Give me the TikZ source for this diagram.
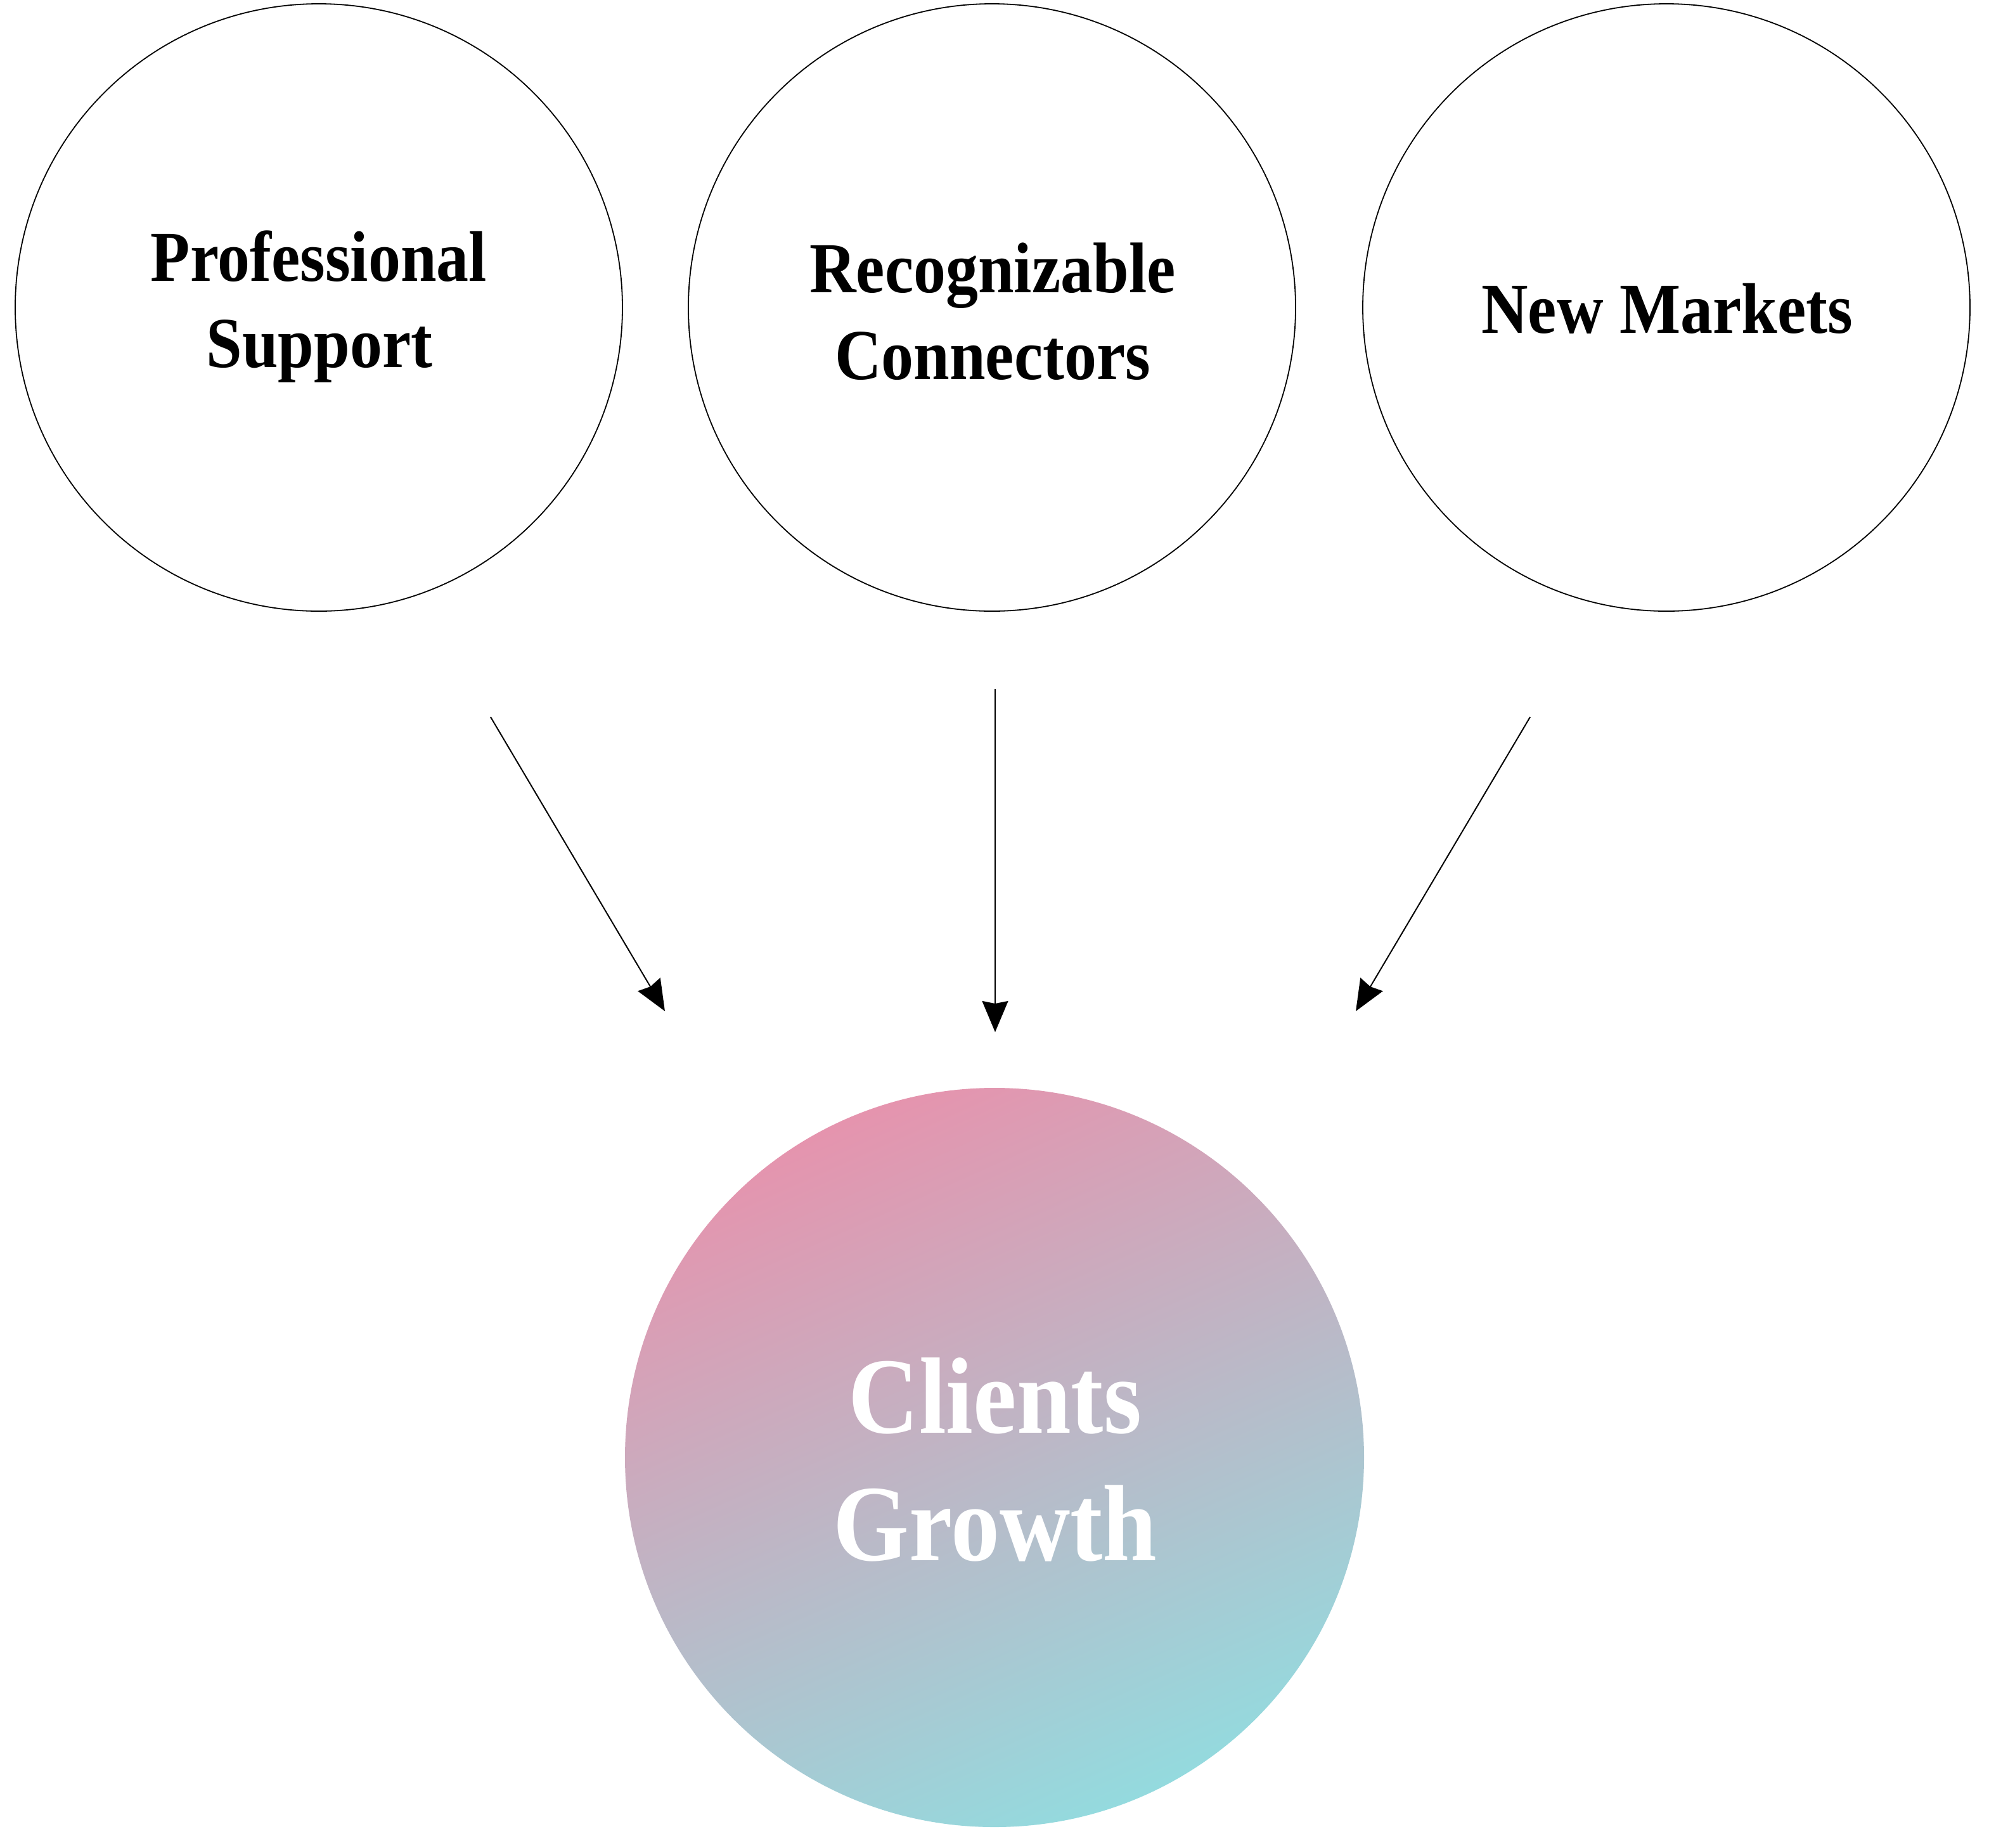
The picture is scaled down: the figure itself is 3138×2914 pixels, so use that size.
\documentclass[tikz,border=0pt]{standalone}
\usepackage{fontspec}
\setmainfont{Liberation Serif}[FakeStretch=0.9]
\usetikzlibrary{arrows.meta}
\definecolor{gpink}{HTML}{E594AE}
\definecolor{gcyan}{HTML}{94DADE}
\begin{document}
\begin{tikzpicture}[x=0.25pt,y=-0.25pt,
  topcircle/.style={circle,draw=black,line width=0.45pt,minimum size=239.5pt,inner sep=0pt,outer sep=0pt},
  goalcircle/.style={circle,minimum size=291.5pt,inner sep=0pt,outer sep=0pt,
     top color=gpink,bottom color=gcyan,shading angle=24},
  toptext/.style={anchor=base,inner sep=0pt,font=\bfseries\fontsize{28.3pt}{34pt}\selectfont,text=black},
  goaltext/.style={anchor=base,inner sep=0pt,font=\bfseries\fontsize{42.8pt}{50pt}\selectfont,text=white},
  arr/.style={line width=0.5pt,draw=black,-{Stealth[length=12.25pt,width=10.25pt,inset=1pt]}}]
\useasboundingbox (0,0) rectangle (3138,2914);
% circles
\node[topcircle] (c1) at (503,485) {};
\node[topcircle] (c2) at (1565,485) {};
\node[topcircle] (c3) at (2629,485) {};
\node[goalcircle] (g) at (1569,2299) {};
% texts
\node[toptext] (t1a) at (503,443) {Professional};
\node[toptext] (t1b) at (504,579) {Support};
\node[toptext] (t2a) at (1566,461) {Recognizable};
\node[toptext] (t2b) at (1566,598) {Connectors};
\node[toptext] (t3) at (2630,525) {New Markets};
\node[goaltext] (ga) at (1570,2260) {Clients};
\node[goaltext] (gb) at (1570,2461) {Growth};
% connector end points
\coordinate (a1s) at (774,1131);
\coordinate (a1e) at (1049,1595);
\coordinate (a2s) at (1570,1087);
\coordinate (a2e) at (1570,1628);
\coordinate (a3s) at (2414,1131);
\coordinate (a3e) at (2139,1595);
\draw[arr] (a1s) -- (a1e);
\draw[arr] (a2s) -- (a2e);
\draw[arr] (a3s) -- (a3e);
\end{tikzpicture}
\end{document}
